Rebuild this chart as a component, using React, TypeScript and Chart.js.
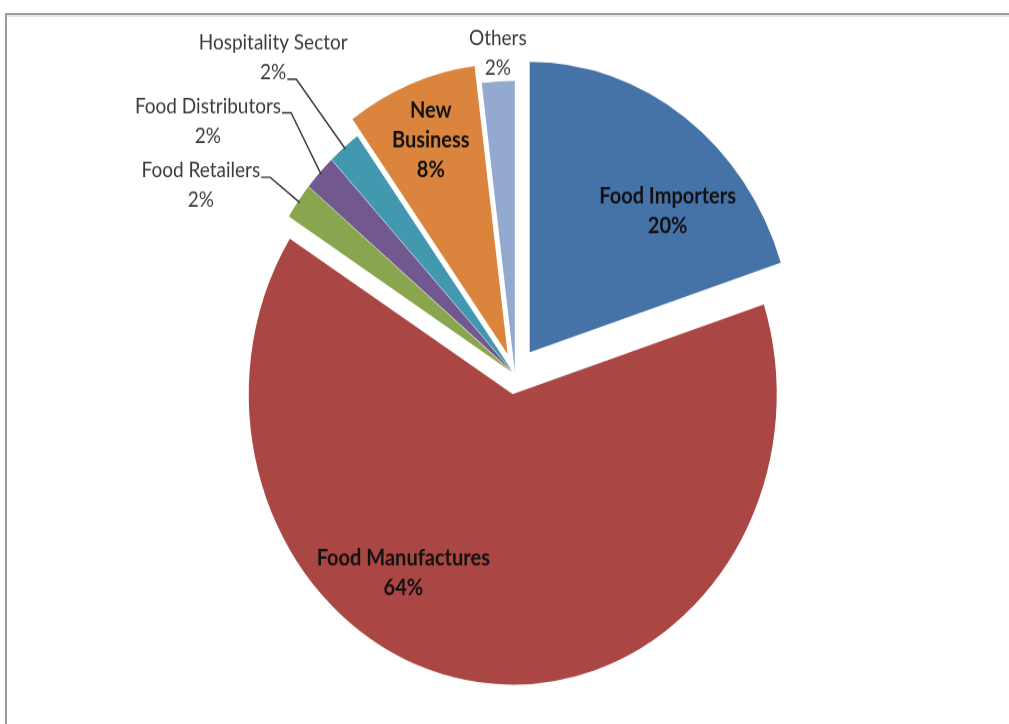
import React, { useEffect, useRef } from "react";
import { Chart, registerables } from "chart.js";

Chart.register(...registerables);

// ---- data ----
const categories = [
  "Food Importers",
  "Food Manufactures",
  "Food Retailers",
  "Food Distributors",
  "Hospitality Sector",
  "New Business",
  "Others",
];
const shares = [20, 64, 2, 2, 2, 8, 2];

// ---- styles ----
const sliceColors = ["#4572A7", "#AA4643", "#89A54E", "#71588F", "#4198AF", "#DB843D", "#93A9CF"];
// explosion distance (px) of each slice, along its mid angle
const explodeOffsets = [25, 18, 4, 4, 4, 20, 3];

// label placement relative to pie centre, in units of radius
const labelSpecs: { fx: number; fy: number; bold: boolean; wrap?: boolean; leader?: number }[] = [
  { fx: 0.578, fy: -0.562, bold: true },
  { fx: -0.423, fy: 0.685, bold: true },
  { fx: -1.19, fy: -0.651, bold: false, leader: 0 },
  { fx: -1.163, fy: -0.873, bold: false, leader: 0 },
  { fx: -0.916, fy: -1.091, bold: false, leader: 1 },
  { fx: -0.319, fy: -0.807, bold: true, wrap: true },
  { fx: -0.065, fy: -1.106, bold: false },
];

const explodePlugin = {
  id: "explodeSlices",
  afterDatasetsUpdate(chart: any) {
    const meta = chart.getDatasetMeta(0);
    meta.data.forEach((arc: any, i: number) => {
      const mid = (arc.startAngle + arc.endAngle) / 2;
      const t = explodeOffsets[i];
      arc.x = arc.x + Math.cos(mid) * t;
      arc.y = arc.y + Math.sin(mid) * t;
    });
  },
};

const pieLabelPlugin = {
  id: "pieLabels",
  afterDatasetsDraw(chart: any) {
    const ctx = chart.ctx as CanvasRenderingContext2D;
    const area = chart.chartArea;
    const x = (area.left + area.right) / 2;
    const y = (area.top + area.bottom) / 2;
    const meta = chart.getDatasetMeta(0);
    meta.data.forEach((arc: any, i: number) => {
      const { startAngle, endAngle, outerRadius } = arc;
      const mid = (startAngle + endAngle) / 2;
      const off = explodeOffsets[i];
      const spec = labelSpecs[i];
      const cx = x + spec.fx * outerRadius;
      const cy = y + spec.fy * outerRadius;
      const lines = spec.wrap ? categories[i].split(" ") : [categories[i]];
      lines.push(shares[i] + "%");
      ctx.save();
      ctx.font = spec.bold ? "bold 20px Lato" : "19px Lato";
      ctx.fillStyle = spec.bold ? "#111111" : "#3a3a3a";
      ctx.textAlign = "center";
      ctx.textBaseline = "middle";
      const lh = 27;
      const top = cy - ((lines.length - 1) * lh) / 2;
      lines.forEach((t, k) => ctx.fillText(t, cx, top + k * lh));
      if (spec.leader !== undefined) {
        const k = spec.leader;
        const w = ctx.measureText(lines[k]).width;
        const sx = cx + w / 2 + 1;
        const sy = top + k * lh + 6;
        const ex = x + Math.cos(mid) * (outerRadius + off - 2);
        const ey = y + Math.sin(mid) * (outerRadius + off - 2);
        ctx.strokeStyle = "#333333";
        ctx.lineWidth = 1.4;
        ctx.beginPath();
        ctx.moveTo(sx, sy);
        ctx.lineTo(sx + 9, sy);
        ctx.lineTo(ex, ey);
        ctx.stroke();
      }
      ctx.restore();
    });
  },
};

export default function App() {
  const canvasRef = useRef<HTMLCanvasElement | null>(null);

  useEffect(() => {
    if (!canvasRef.current) return;
    const chart = new Chart(canvasRef.current, {
      type: "pie",
      data: {
        labels: categories,
        datasets: [
          {
            data: shares,
            backgroundColor: sliceColors,
            borderWidth: 0,
          } as any,
        ],
      },
      options: {
        responsive: false,
        animation: false,
        radius: 264,
        layout: { padding: { left: 21, top: 23, right: 0, bottom: 0 } },
        plugins: {
          legend: { display: false },
          tooltip: { enabled: false },
        },
      } as any,
      plugins: [explodePlugin, pieLabelPlugin],
    });
    return () => chart.destroy();
  }, []);

  return (
    <div
      style={{
        position: "fixed",
        left: 0,
        top: 0,
        width: 1009,
        height: 724,
        overflow: "hidden",
        background: "#ffffff",
      }}
    >
      <div
        style={{
          position: "absolute",
          left: 0,
          top: 0,
          transform: "scaleY(1.1)",
          transformOrigin: "0 0",
        }}
      >
        <canvas ref={canvasRef} width={1009} height={658} style={{ display: "block" }} />
      </div>
      <div style={{ position: "absolute", left: 980, top: 17, width: 29, height: 707, background: "#ffffff" }} />
      <div style={{ position: "absolute", left: 5, top: 13, width: 1004, height: 2, background: "#9c9c9c" }} />
      <div style={{ position: "absolute", left: 5, top: 15, width: 1004, height: 2, background: "#e4e4e4" }} />
      <div style={{ position: "absolute", left: 5, top: 13, width: 2, height: 711, background: "#9c9c9c" }} />
    </div>
  );
}
